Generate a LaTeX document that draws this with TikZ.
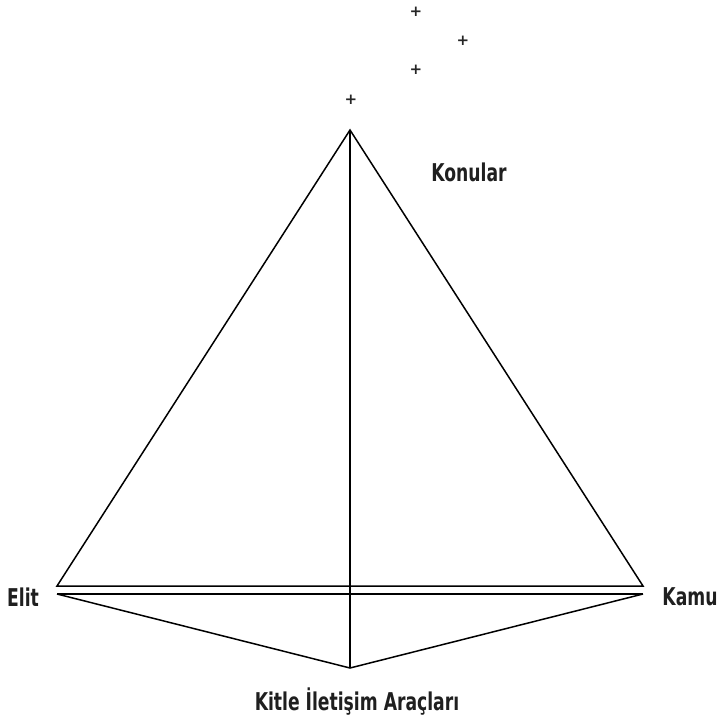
\documentclass[tikz,border=0pt]{standalone}
\usepackage{fontspec}
\newfontfamily\lblfont{DejaVu Sans Condensed}[FakeStretch=0.78]
\newfontfamily\plusfont{DejaVu Sans}
\begin{document}
\begin{tikzpicture}[x=1pt,y=-1pt,
  edge/.style={line width=1.5pt,line join=miter},
  lbl/.style={font=\lblfont\bfseries\fontsize{24.5}{27}\selectfont,text=black!88,inner sep=0pt},
  plus/.style={font=\plusfont\bfseries\fontsize{15}{15}\selectfont,text=black!85,inner sep=0pt}]
\useasboundingbox (0,0) rectangle (719,722);
\coordinate (apex) at (350,130);
\coordinate (lu) at (57,586);
\coordinate (ru) at (643,586);
\coordinate (ll) at (57,594);
\coordinate (rl) at (643,594);
\coordinate (bot) at (350,668);
\draw[edge] (lu) -- (apex) -- (ru) -- cycle;
\draw[edge] (ll) -- (rl);
\draw[edge] (ll) -- (bot) -- (rl);
\draw[edge] (apex) -- (bot);
\node[lbl] (konular) at (469,172) {Konular};
\node[lbl] (elit) at (23,597) {Elit};
\node[lbl] (kamu) at (690,597) {Kamu};
\node[lbl] (kitle) at (357,702) {Kitle İletişim Araçları};
\node[plus] (p1) at (351,100) {+};
\node[plus] (p2) at (416,70) {+};
\node[plus] (p3) at (463,41) {+};
\node[plus] (p4) at (416,12) {+};
\end{tikzpicture}
\end{document}
